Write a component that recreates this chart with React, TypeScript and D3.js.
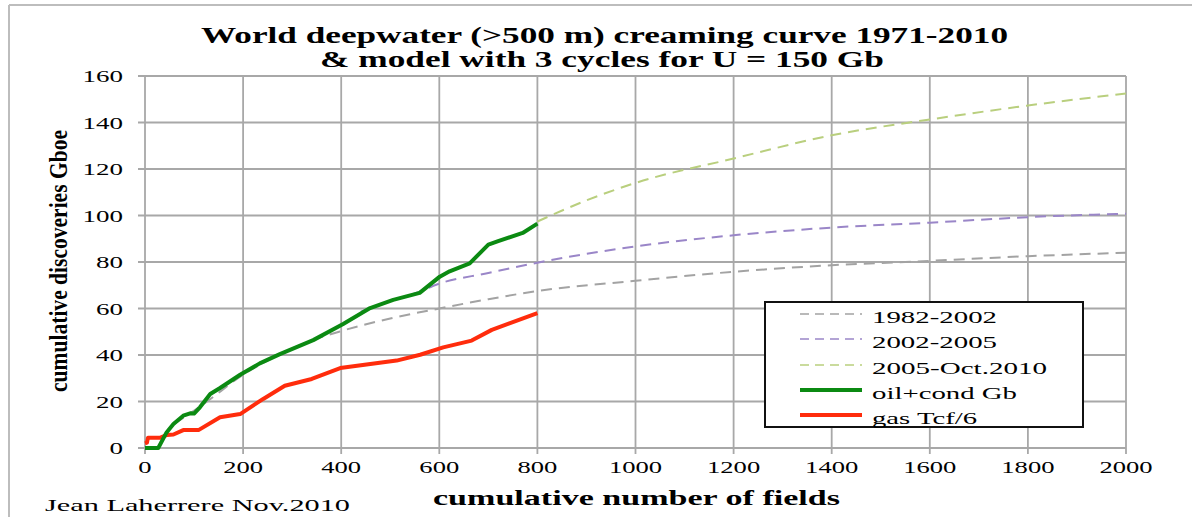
import React from "react";
import * as d3 from "d3";

const xTicks = [0, 200, 400, 600, 800, 1000, 1200, 1400, 1600, 1800, 2000];
const yTicks = [0, 20, 40, 60, 80, 100, 120, 140, 160];

const oilFields = [0, 27, 44, 58, 78, 92, 100, 112, 133, 153, 194, 234, 275, 343, 404, 459, 506, 560, 601, 621, 662, 700, 720, 770, 800];
const oilGb = [0, 0, 6.7, 10.3, 13.9, 14.9, 14.8, 17.5, 23.2, 25.8, 31.5, 36.4, 40.4, 46.4, 53.3, 60.2, 63.7, 66.7, 73.7, 76, 79.4, 87.5, 89, 92.5, 96.5];

const gasFields = [0, 4, 6, 30, 45, 58, 78, 109, 153, 194, 241, 285, 340, 398, 513, 561, 608, 666, 707, 800];
const gasTcf6 = [2, 2.3, 4.4, 4.4, 5.6, 5.8, 7.7, 7.7, 13.2, 14.6, 21.1, 26.8, 29.7, 34.4, 37.6, 40.1, 43.3, 46.2, 50.8, 58];

const c1Fields = [60, 120, 200, 280, 350, 400, 500, 600, 700, 800, 1000, 1200, 1400, 1600, 1800, 2000];
const c1Values = [10.5, 19, 31.5, 40.8, 47, 50.3, 55.7, 60, 64, 67.5, 71.9, 75.8, 78.6, 80.5, 82.5, 84];

const c2Fields = [440, 506, 560, 588, 700, 800, 1000, 1200, 1400, 1600, 1800, 2000];
const c2Values = [58.6, 63.6, 67.2, 69.8, 75.3, 79.7, 86.7, 91.5, 94.8, 96.9, 99.3, 100.8];

const c3Fields = [800, 900, 1000, 1200, 1400, 1600, 1800, 2000];
const c3Values = [97.4, 106.5, 114, 124.5, 134.5, 141.3, 147.3, 152.5];

const legendLabels = ["1982-2002", "2002-2005", "2005-Oct.2010", "oil+cond Gb", "gas Tcf/6"];
const legendWidths = [125, 125, 175, 145, 105];

const titleLines = ["World deepwater (>500 m) creaming curve 1971-2010", "& model with 3 cycles for U = 150 Gb"];
const yTitle = "cumulative discoveries Gboe";
const xTitle = "cumulative number of fields";
const credit = "Jean Laherrere Nov.2010";

const C_GRAY = "#a3a3a3";
const C_PURPLE = "#9a86c8";
const C_YG = "#b9cf7e";
const C_GREEN = "#0b8a12";
const C_RED = "#ff2c0c";
const GRID = "#a8a8a8";
const FONT = "'Liberation Serif', 'Times New Roman', serif";

const zip = (xs: number[], ys: number[]) => xs.map((x, i) => [x, ys[i]] as [number, number]);

export default function App() {
  const W = 1192, H = 517;
  const x = d3.scaleLinear().domain([0, 2000]).range([145, 1126]);
  const y = d3.scaleLinear().domain([0, 160]).range([448, 76]);
  const lin = d3.line<[number, number]>().x(d => x(d[0])).y(d => y(d[1]));
  const smooth = d3.line<[number, number]>().x(d => x(d[0])).y(d => y(d[1])).curve(d3.curveMonotoneX);

  const legendStyles = [
    { color: C_GRAY, dash: "9,6", w: 1.6 },
    { color: C_PURPLE, dash: "9,6", w: 1.6 },
    { color: C_YG, dash: "9,6", w: 1.6 },
    { color: C_GREEN, dash: undefined, w: 4 },
    { color: C_RED, dash: undefined, w: 4 },
  ];
  const legRows = [314, 339, 365, 390, 415];

  return (
    <svg width={W} height={H} style={{ position: "absolute", left: 0, top: 0, background: "#fff" }} fontFamily={FONT}>
      {/* outer frame */}
      <line x1={9} y1={5} x2={W} y2={5} stroke="#bdbdbd" strokeWidth={2} />
      <line x1={9} y1={5} x2={9} y2={H} stroke="#bdbdbd" strokeWidth={2} />

      {/* title */}
      <text x={201} y={43} fontSize={23} fontWeight="bold" textLength={807} lengthAdjust="spacingAndGlyphs">{titleLines[0]}</text>
      <text x={320} y={67} fontSize={23} fontWeight="bold" textLength={564} lengthAdjust="spacingAndGlyphs">{titleLines[1]}</text>

      {/* grid */}
      {yTicks.map(t => (
        <line key={"gy" + t} x1={138} x2={x(2000)} y1={y(t)} y2={y(t)} stroke={GRID} strokeWidth={1.8} />
      ))}
      {xTicks.map(t => (
        <line key={"gx" + t} x1={x(t)} x2={x(t)} y1={y(160)} y2={y(0) + 6} stroke={GRID} strokeWidth={1.8} />
      ))}

      {/* y tick labels */}
      {yTicks.map(t => {
        const s = String(t);
        return (
          <text key={"ly" + t} x={123} y={y(t) + 6} fontSize={17} textAnchor="end" textLength={s.length * 13.5} lengthAdjust="spacingAndGlyphs">{s}</text>
        );
      })}
      {/* x tick labels */}
      {xTicks.map(t => {
        const s = String(t);
        return (
          <text key={"lx" + t} x={x(t)} y={473} fontSize={17} textAnchor="middle" textLength={s.length * 13.3} lengthAdjust="spacingAndGlyphs">{s}</text>
        );
      })}

      {/* axis titles */}
      <text transform="translate(67,261) scale(1.2,1) rotate(-90)" fontSize={21} fontWeight="bold" textAnchor="middle" textLength={262} lengthAdjust="spacingAndGlyphs">{yTitle}</text>
      <text x={433} y={505} fontSize={20} fontWeight="bold" textLength={407} lengthAdjust="spacingAndGlyphs">{xTitle}</text>
      <text x={45} y={511} fontSize={16} textLength={305} lengthAdjust="spacingAndGlyphs">{credit}</text>

      {/* model cycles */}
      <path d={smooth(zip(c1Fields, c1Values)) || ""} fill="none" stroke={C_GRAY} strokeWidth={2} strokeDasharray="11,7" />
      <path d={smooth(zip(c2Fields, c2Values)) || ""} fill="none" stroke={C_PURPLE} strokeWidth={2} strokeDasharray="11,7" />
      <path d={smooth(zip(c3Fields, c3Values)) || ""} fill="none" stroke={C_YG} strokeWidth={2} strokeDasharray="11,7" />

      {/* data */}
      <path d={lin(zip(gasFields, gasTcf6)) || ""} fill="none" stroke={C_RED} strokeWidth={4} strokeLinejoin="round" />
      <path d={lin(zip(oilFields, oilGb)) || ""} fill="none" stroke={C_GREEN} strokeWidth={4} strokeLinejoin="round" />

      {/* legend */}
      <rect x={765} y={302} width={318} height={125} fill="#fff" stroke="#111" strokeWidth={2} />
      {legendLabels.map((lab, i) => (
        <g key={lab}>
          <line x1={800} x2={862} y1={legRows[i]} y2={legRows[i]} stroke={legendStyles[i].color} strokeWidth={legendStyles[i].w} strokeDasharray={legendStyles[i].dash} />
          <text x={872} y={legRows[i] + 9} fontSize={17} textLength={legendWidths[i]} lengthAdjust="spacingAndGlyphs">{lab}</text>
        </g>
      ))}
    </svg>
  );
}
